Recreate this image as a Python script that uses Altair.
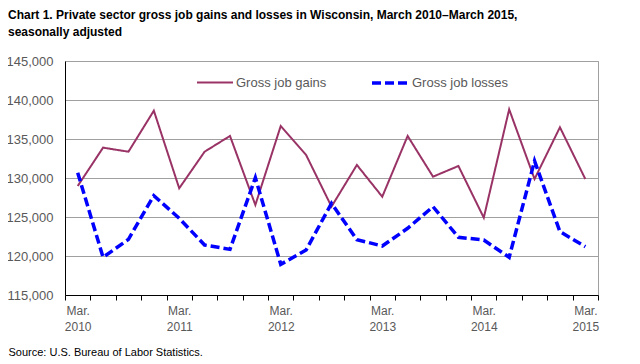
import json
import altair as alt
import pandas as pd

quarters = [
    "Mar. 2010", "June 2010", "Sept. 2010", "Dec. 2010",
    "Mar. 2011", "June 2011", "Sept. 2011", "Dec. 2011",
    "Mar. 2012", "June 2012", "Sept. 2012", "Dec. 2012",
    "Mar. 2013", "June 2013", "Sept. 2013", "Dec. 2013",
    "Mar. 2014", "June 2014", "Sept. 2014", "Dec. 2014",
    "Mar. 2015",
]
gains = [
    128970, 133890, 133370, 138630, 128680, 133370, 135390, 126540,
    136670, 132950, 126330, 131670, 127600, 135390, 130170, 131540,
    124910, 138800, 129870, 136500, 129870,
]
losses = [
    130680, 119830, 122140, 127740, 124830, 121410, 120850, 130040,
    118930, 120770, 126750, 122100, 121280, 123550, 126320, 122400,
    122050, 119830, 132180, 123120, 121200,
]
series_names = ["Gross job gains", "Gross job losses"]
y_ticks = [115000, 120000, 125000, 130000, 135000, 140000, 145000]

rows = []
for i, (q, g, l) in enumerate(zip(quarters, gains, losses)):
    rows.append({"idx": i, "quarter": q, "series": series_names[0], "value": g})
    rows.append({"idx": i, "quarter": q, "series": series_names[1], "value": l})
df = pd.DataFrame(rows)

n = len(quarters)
# tick marks sit on the boundaries between quarters
boundaries = [i - 0.5 for i in range(n + 1)]
# label shown for each boundary tick (at the start of a quarter): only March quarters
tick_labels = [q.split(" ") if q.startswith("Mar.") else "" for q in quarters]
label_expr = json.dumps(tick_labels) + "[datum.value + 0.5] || ''"

FONT = "Liberation Sans, Arial, Helvetica, sans-serif"
LABEL_GRAY = "#595959"
W, H = 533, 234

x_axis = alt.Axis(
    title="Source: U.S. Bureau of Labor Statistics.",
    titleFont=FONT,
    titleFontSize=11,
    titleFontWeight="normal",
    titleColor="#000000",
    titleAnchor="start",
    titleAlign="left",
    titleBaseline="alphabetic",
    titleX=-57,
    titleY=60,
    values=boundaries,
    labelExpr=label_expr,
    labelAngle=0,
    labelAlign="center",
    labelOffset=W / n / 2,
    labelFlush=False,
    labelOverlap=False,
    labelBound=False,
    labelFont=FONT,
    labelFontSize=12,
    labelColor=LABEL_GRAY,
    labelLineHeight=16.7,
    labelPadding=5,
    tickSize=5,
    tickColor="#000000",
    domainColor="#000000",
    grid=False,
)

y_axis = alt.Axis(
    title=None,
    values=y_ticks,
    format=",.0f",
    labelFont=FONT,
    labelFontSize=13,
    labelColor=LABEL_GRAY,
    labelPadding=12,
    ticks=False,
    domainColor="#000000",
    grid=True,
    gridColor="#a0a0a0",
)

chart = (
    alt.Chart(df)
    .mark_line()
    .encode(
        x=alt.X(
            "idx:Q",
            scale=alt.Scale(domain=[-0.5, n - 0.5], nice=False, zero=False),
            axis=x_axis,
        ),
        y=alt.Y(
            "value:Q",
            scale=alt.Scale(domain=[115000, 145000], nice=False, zero=False),
            axis=y_axis,
        ),
        color=alt.Color(
            "series:N",
            scale=alt.Scale(domain=series_names, range=["#993366", "#0000ff"]),
            legend=alt.Legend(
                title=None,
                orient="none",
                legendX=131,
                legendY=2,
                direction="horizontal",
                symbolType="stroke",
                symbolSize=1296,
                labelFont=FONT,
                labelFontSize=13,
                labelColor=LABEL_GRAY,
                labelOffset=2,
                columnPadding=38,
                padding=0,
            ),
        ),
        strokeDash=alt.StrokeDash(
            "series:N",
            scale=alt.Scale(domain=series_names, range=[[1, 0], [9, 4]]),
        ),
        strokeWidth=alt.StrokeWidth(
            "series:N",
            scale=alt.Scale(domain=series_names, range=[2, 3.5]),
        ),
    )
    .properties(
        width=W,
        height=H,
        autosize=alt.AutoSizeParams(type="none"),
        padding={"left": 57, "top": 53, "right": 20, "bottom": 61},
        title=alt.TitleParams(
            text=[
                "Chart 1. Private sector gross  job gains and losses  in Wisconsin,  March 2010\u2013March  2015,",
                "seasonally adjusted",
            ],
            anchor="start",
            frame="group",
            dx=-57,
            offset=16,
            font=FONT,
            fontSize=12,
            fontWeight="bold",
            color="#000000",
            lineHeight=17,
        ),
    )
    .configure_view(stroke="#a0a0a0", strokeWidth=1)
)

chart.save("out.html", embed_options={"renderer": "svg", "actions": False})
